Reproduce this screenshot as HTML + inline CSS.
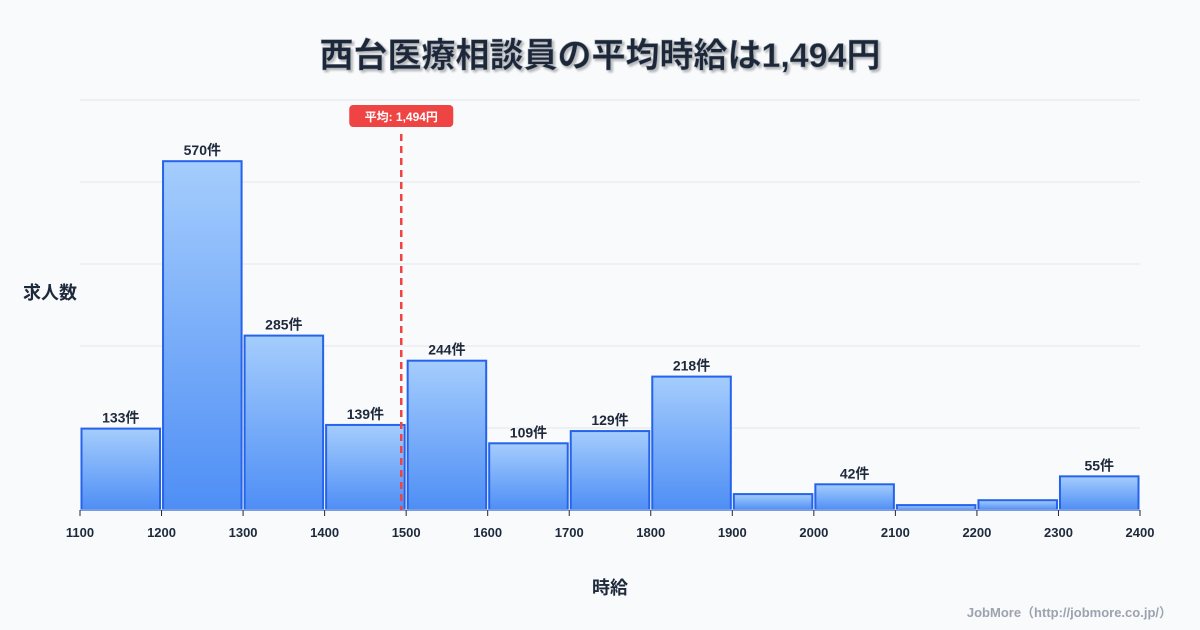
<!DOCTYPE html>
<html><head><meta charset="utf-8"><style>
body{margin:0;background:#f8fafc;}
svg{display:block;font-family:"Liberation Sans","Noto Sans CJK JP",sans-serif;}
</style></head><body>
<svg id="c" width="1200" height="630" viewBox="0 0 1200 630">
<defs><linearGradient id="g" x1="0" y1="0" x2="0" y2="1"><stop offset="0" stop-color="#a5cdfd"/><stop offset="1" stop-color="#4e8ef5"/></linearGradient></defs>
<rect width="1200" height="630" fill="#f8fafc"/>
<text x="600" y="67" text-anchor="middle" font-size="34" font-weight="bold" fill="#1e293b" stroke="#9ca3af" stroke-width="0.5" style="text-shadow:2px 2px 2px rgba(0,0,0,0.25)">西台医療相談員の平均時給は1,494円</text>
<g id="grid"></g><g id="bars"></g><g id="xt"></g>
<text x="50" y="299" text-anchor="middle" font-size="18" font-weight="bold" fill="#1e293b">求人数</text>
<text x="610" y="594" text-anchor="middle" font-size="18" font-weight="bold" fill="#1e293b">時給</text>
<text x="1172" y="617" text-anchor="end" font-size="13" font-weight="bold" fill="#9ca3af">JobMore（http://jobmore.co.jp/）</text>
<g id="avg"></g>
</svg>
<script>
const binStarts=[1100,1200,1300,1400,1500,1600,1700,1800,1900,2000,2100,2200,2300];
const counts=[133,570,285,139,244,109,129,218,26,42,8,16,55];
const showLabel=[true,true,true,true,true,true,true,true,false,true,false,false,true];
const xTicks=[1100,1200,1300,1400,1500,1600,1700,1800,1900,2000,2100,2200,2300,2400];
const avg=1494;
const yMax=670, binW=100;
const X=v=>80+(v-1100)*(1060/1300);
const Y=v=>510-v*(410/yMax);
const NS="http://www.w3.org/2000/svg";
function mk(t,a,p){const e=document.createElementNS(NS,t);for(const k in a)e.setAttribute(k,a[k]);p.appendChild(e);return e;}
const grid=document.getElementById('grid');
for(let i=0;i<=5;i++){const v=yMax*i/5;
const l=mk('line',{x1:80,x2:1140,y1:Y(v),y2:Y(v),stroke:'#e5e7eb','stroke-width':1},grid);

}
const bars=document.getElementById('bars');
counts.forEach((c,i)=>{
const x0=X(binStarts[i]),x1=X(binStarts[i]+binW);
const r=mk('rect',{x:x0+1.5,y:Y(c),width:x1-x0-3,height:510-Y(c),fill:'url(#g)',stroke:'#2563eb','stroke-width':2},bars);


if(showLabel[i]){const t=mk('text',{x:(x0+x1)/2,y:Y(c)-6,'text-anchor':'middle','font-size':14,'font-weight':'bold',fill:'#1e293b'},bars);t.textContent=c+'件';

}
});
const xt=document.getElementById('xt');
const ax=mk('line',{x1:80,x2:1140,y1:510,y2:510,stroke:'#d1d5db'},xt);


xTicks.forEach(v=>{
const tk=mk('line',{x1:X(v),x2:X(v),y1:510,y2:516,stroke:'#1e293b'},xt);


const t=mk('text',{x:X(v),y:537,'text-anchor':'middle','font-size':13,'font-weight':'bold',fill:'#1e293b'},xt);t.textContent=v;

});
const ag=document.getElementById('avg');
const al=mk('line',{x1:X(avg),x2:X(avg),y1:134,y2:510,stroke:'#ef4444','stroke-width':2.5,'stroke-dasharray':'7,5'},ag);


const ar=mk('rect',{x:X(avg)-52,y:105,width:104,height:22,rx:4,fill:'#ef4444'},ag);


const at=mk('text',{x:X(avg),y:121,'text-anchor':'middle','font-size':12,'font-weight':'bold',fill:'#fff'},ag);at.textContent='平均: 1,494円';


</script>
</body></html>
